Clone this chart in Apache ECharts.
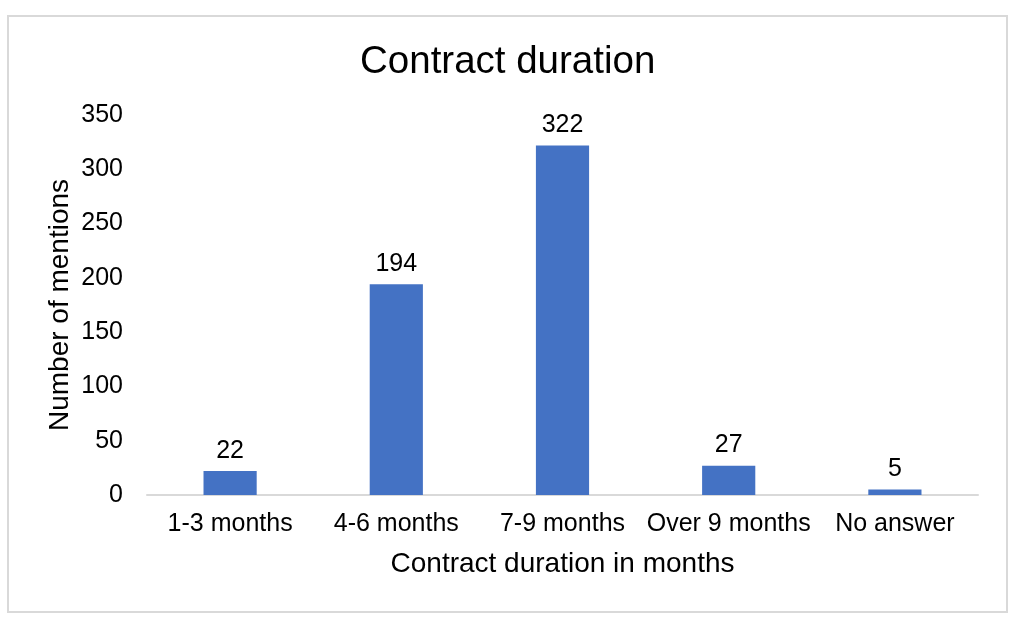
<!DOCTYPE html>
<html><head><meta charset="utf-8">
<script src="https://cdn.jsdelivr.net/npm/echarts@6/dist/echarts.min.js"></script>
<style>html,body{margin:0;padding:0;background:#fff}#c{width:1029px;height:639px}
#frame{position:absolute;left:7px;top:15px;width:1001px;height:598px;border:2px solid #d9d9d9;box-sizing:border-box;pointer-events:none}</style>
</head><body><div id="c"></div><div id="frame"></div>
<script>
const categories = ['1-3 months', '4-6 months', '7-9 months', 'Over 9 months', 'No answer'];
const mentions = [22, 194, 322, 27, 5];
const yTicks = [0, 50, 100, 150, 200, 250, 300, 350];
const chart = echarts.init(document.getElementById('c'), null, {renderer: 'canvas'});
const font = 'Liberation Sans, Arial, sans-serif';
chart.setOption({
  animation: false,
  backgroundColor: '#fff',
  title: {text: 'Contract duration', left: 360, top: 43, padding: 0, textStyle: {fontFamily: font, fontSize: 38.5, fontWeight: 'normal', color: '#000'}},
  grid: {left: 147, right: 51, top: 115, bottom: 144},
  xAxis: {
    type: 'category', data: categories,
    name: 'Contract duration in months', nameLocation: 'middle', nameGap: 55,
    nameTextStyle: {fontFamily: font, fontSize: 28, color: '#000'},
    axisLine: {lineStyle: {color: '#d9d9d9', width: 2}},
    axisTick: {show: false},
    axisLabel: {interval: 0, fontFamily: font, fontSize: 25, color: '#000', margin: 17}
  },
  yAxis: {
    type: 'value', min: yTicks[0], max: yTicks[yTicks.length - 1], interval: 50,
    name: 'Number of mentions', nameLocation: 'middle', nameGap: 73, nameMoveOverlap: false,
    nameTextStyle: {fontFamily: font, fontSize: 28, color: '#000'},
    axisLine: {show: false}, axisTick: {show: false}, splitLine: {show: false},
    axisLabel: {fontFamily: font, fontSize: 25, color: '#000', margin: 24}
  },
  series: [{
    type: 'bar', data: mentions, barWidth: '32%',
    itemStyle: {color: '#4472C4'},
    label: {show: true, position: 'top', distance: 8, fontFamily: font, fontSize: 25, color: '#000'}
  }]
});
</script></body></html>
